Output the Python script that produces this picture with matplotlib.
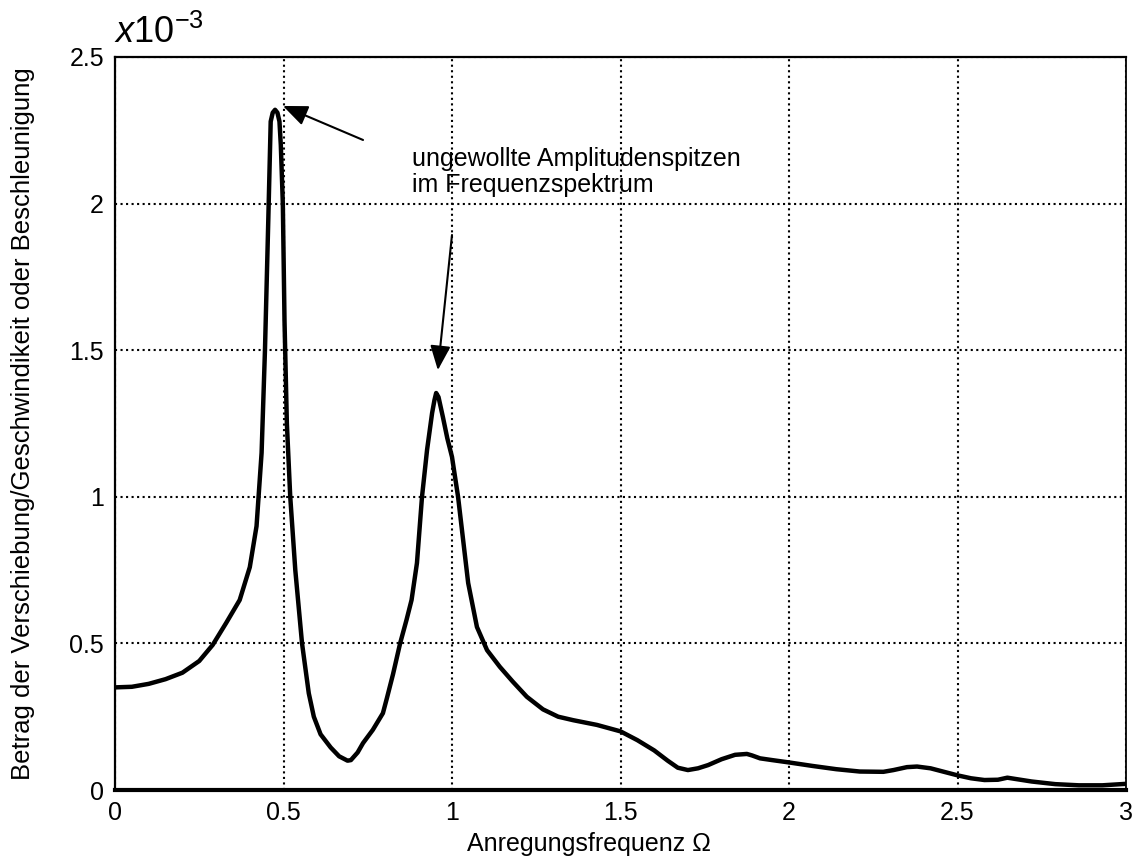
import matplotlib.pyplot as plt

plt.rcParams['font.family'] = ['Liberation Sans', 'DejaVu Sans']
plt.rcParams['mathtext.fontset'] = 'custom'
plt.rcParams['mathtext.rm'] = 'Liberation Sans'
plt.rcParams['mathtext.it'] = 'Liberation Sans:italic'

# amplitude response, values in units of 1e-3
freq = [0.0, 0.05, 0.10, 0.15, 0.20, 0.25, 0.29, 0.33, 0.37, 0.40, 0.42,
        0.435, 0.445, 0.455, 0.462, 0.468, 0.475, 0.482, 0.488, 0.492,
        0.498, 0.503, 0.51, 0.52, 0.535, 0.555, 0.575, 0.59, 0.61, 0.64,
        0.665, 0.69, 0.70, 0.72, 0.736, 0.765, 0.795, 0.807, 0.825, 0.846,
        0.865, 0.88, 0.896, 0.911, 0.926, 0.941, 0.948, 0.953, 0.96, 0.973,
        0.986, 1.0, 1.018, 1.033, 1.048, 1.074, 1.104, 1.142, 1.18, 1.222,
        1.27, 1.315, 1.36, 1.43, 1.5, 1.55, 1.60, 1.64, 1.67, 1.70, 1.73,
        1.76, 1.80, 1.84, 1.875, 1.89, 1.914, 1.95, 2.0, 2.07, 2.14, 2.21,
        2.28, 2.31, 2.35, 2.38, 2.42, 2.46, 2.5, 2.54, 2.58, 2.62, 2.648,
        2.67, 2.72, 2.79, 2.86, 2.93, 3.0]
amp = [0.350, 0.352, 0.362, 0.378, 0.400, 0.440, 0.495, 0.570, 0.648, 0.760,
       0.900, 1.15, 1.50, 1.95, 2.28, 2.31, 2.32, 2.31, 2.28, 2.20,
       2.00, 1.60, 1.25, 1.00, 0.75, 0.50, 0.33, 0.25, 0.19, 0.145,
       0.115, 0.100, 0.102, 0.128, 0.160, 0.205, 0.262, 0.314, 0.395, 0.500,
       0.580, 0.648, 0.774, 1.00, 1.16, 1.286, 1.33, 1.354, 1.34, 1.272,
       1.20, 1.136, 1.00, 0.853, 0.706, 0.556, 0.477, 0.42, 0.37, 0.318,
       0.275, 0.25, 0.238, 0.222, 0.200, 0.170, 0.135, 0.100, 0.076, 0.068,
       0.074, 0.085, 0.105, 0.120, 0.123, 0.118, 0.108, 0.102, 0.094, 0.082,
       0.071, 0.063, 0.062, 0.068, 0.078, 0.080, 0.074, 0.062, 0.050, 0.040,
       0.034, 0.035, 0.042, 0.038, 0.029, 0.020, 0.016, 0.016, 0.021]

xticks = [0, 0.5, 1, 1.5, 2, 2.5, 3]
xticklabels = ['0', '0.5', '1', '1.5', '2', '2.5', '3']
yticks = [0, 0.5, 1, 1.5, 2, 2.5]
yticklabels = ['0', '0.5', '1', '1.5', '2', '2.5']

note = 'ungewollte Amplitudenspitzen\nim Frequenzspektrum'
note_pos = (0.881, 2.04)
arrow_tips = [(0.4985, 2.333), (0.958, 1.432)]
arrow_tails = [(0.736, 2.217), (1.0, 1.893)]

fig = plt.figure(figsize=(11.37, 8.6), dpi=100)
ax = fig.add_axes([115 / 1137, 70 / 860, 1011 / 1137, 733 / 860])

ax.plot(freq, amp, color='black', lw=3.2, solid_joinstyle='round', zorder=3)

ax.set_xlim(0, 3)
ax.set_ylim(0, 2.5)
ax.set_xticks(xticks)
ax.set_xticklabels(xticklabels)
ax.set_yticks(yticks)
ax.set_yticklabels(yticklabels)
ax.tick_params(length=0, labelsize=18, pad=8)
ax.grid(True, linestyle=':', color='black', lw=1.5)

ax.spines['bottom'].set_linewidth(3)
ax.spines['left'].set_linewidth(1.6)
ax.spines['top'].set_linewidth(1.6)
ax.spines['right'].set_linewidth(1.3)

ax.set_xlabel('Anregungsfrequenz \u03a9', fontsize=18)
ax.xaxis.set_label_coords(474 / 1011, -42 / 733)
ax.set_ylabel('Betrag der Verschiebung/Geschwindikeit oder Beschleunigung',
              fontsize=18.5)
ax.yaxis.set_label_coords(-80 / 1011, 0.5)

fig.text(114 / 1137, 1 - 43 / 860, r'$\mathit{x}10^{-3}$', fontsize=26,
         ha='left', va='baseline')

ax.text(note_pos[0], note_pos[1], note, fontsize=18, ha='left',
        va='baseline', linespacing=1.12)
for tip, tail in zip(arrow_tips, arrow_tails):
    ax.annotate('', xy=tip, xytext=tail,
                arrowprops=dict(arrowstyle='-|>,head_length=0.6,head_width=0.25',
                                mutation_scale=25, lw=1.5, color='black',
                                shrinkA=0, shrinkB=0))

fig.savefig('out.png', dpi=100)
